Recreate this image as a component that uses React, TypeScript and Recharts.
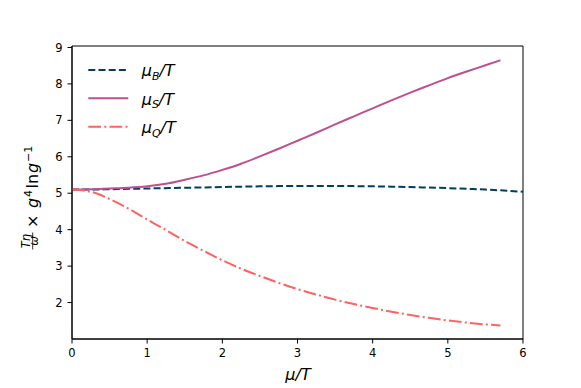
import React from 'react';
import { LineChart, Line, XAxis, YAxis, Legend, ReferenceArea } from 'recharts';

const muOverT = [0, 0.25, 0.5, 0.75, 1.0, 1.25, 1.5, 1.75, 2.0, 2.25, 2.5, 2.75, 3.0, 3.25, 3.5, 3.75, 4.0, 4.25, 4.5, 4.75, 5.0, 5.25, 5.5, 5.7, 6.0];
const seriesB = [5.10, 5.10, 5.11, 5.12, 5.13, 5.14, 5.15, 5.16, 5.17, 5.18, 5.19, 5.195, 5.20, 5.20, 5.20, 5.195, 5.19, 5.18, 5.17, 5.155, 5.14, 5.12, 5.10, 5.08, 5.04];
const seriesS = [5.10, 5.11, 5.13, 5.15, 5.19, 5.26, 5.37, 5.49, 5.64, 5.81, 6.01, 6.22, 6.44, 6.66, 6.89, 7.11, 7.33, 7.55, 7.76, 7.96, 8.16, 8.34, 8.51, 8.65, null];
const seriesQ = [5.10, 5.04, 4.84, 4.58, 4.28, 3.99, 3.69, 3.42, 3.16, 2.93, 2.73, 2.54, 2.37, 2.22, 2.08, 1.96, 1.85, 1.75, 1.66, 1.58, 1.51, 1.45, 1.40, 1.37, null];
const xTicks = [0, 1, 2, 3, 4, 5, 6];
const yTicks = [2, 3, 4, 5, 6, 7, 8, 9];

const data = muOverT.map((x, i) => ({ x, B: seriesB[i], S: seriesS[i], Q: seriesQ[i] }));

const COLORS = { B: '#003f5c', S: '#bc5090', Q: '#ff6361' };
const DASH = { B: '7 3.2', S: undefined as string | undefined, Q: '12.8 3.2 2 3.2' };
const FONT = '"DejaVu Sans", sans-serif';

const legendItems: { key: 'B' | 'S' | 'Q'; sub: string }[] = [
  { key: 'B', sub: 'B' },
  { key: 'S', sub: 'S' },
  { key: 'Q', sub: 'Q' },
];

const LegendContent = () => (
  <svg width={130} height={90} style={{ display: 'block' }}>
    {legendItems.map((it, i) => {
      const y = 15 + i * 28.35;
      return (
        <g key={it.key}>
          <line x1={8.3} x2={48.3} y1={y} y2={y} stroke={COLORS[it.key]} strokeWidth={2} strokeDasharray={DASH[it.key]} />
          <text x={61.7} y={y + 6.3} fontFamily={FONT} fontSize={16} fontStyle="italic" fill="#000">
            μ<tspan fontSize={11} dy={3.5}>{it.sub}</tspan>
            <tspan dy={-3.5}>/T</tspan>
          </text>
        </g>
      );
    })}
  </svg>
);

export default function App() {
  return (
    <div style={{ position: 'absolute', left: 0, top: 0, width: 581, height: 388, background: '#fff' }}>
      <LineChart width={581} height={388} data={data} margin={{ top: 46, right: 58, left: 0, bottom: 0 }}>
        <XAxis
          dataKey="x"
          type="number"
          domain={[0, 6]}
          ticks={xTicks}
          height={49}
          tickSize={4.5}
          tickMargin={5}
          stroke="#000"
          tick={{ fill: '#000', fontSize: 11.5, fontFamily: FONT }}
          axisLine={{ stroke: '#000', strokeWidth: 1 }}
          tickLine={{ stroke: '#000', strokeWidth: 1 }}
        />
        <YAxis
          type="number"
          domain={[1.0, 9.04]}
          ticks={yTicks}
          width={72}
          tickSize={4.5}
          tickMargin={5}
          stroke="#000"
          tick={{ fill: '#000', fontSize: 11.5, fontFamily: FONT }}
          axisLine={{ stroke: '#000', strokeWidth: 1 }}
          tickLine={{ stroke: '#000', strokeWidth: 1 }}
        />
        <ReferenceArea x1={0} x2={6} y1={1.0} y2={9.04} fill="none" stroke="#000" strokeWidth={1} />
        <Line type="monotone" dataKey="B" name="μB/T" stroke={COLORS.B} strokeWidth={2} strokeDasharray={DASH.B} dot={false} isAnimationActive={false} />
        <Line type="monotone" dataKey="S" name="μS/T" stroke={COLORS.S} strokeWidth={2} dot={false} isAnimationActive={false} connectNulls={false} />
        <Line type="monotone" dataKey="Q" name="μQ/T" stroke={COLORS.Q} strokeWidth={2} strokeDasharray={DASH.Q} dot={false} isAnimationActive={false} connectNulls={false} />
        <Legend
          layout="vertical"
          align="center"
          verticalAlign="middle"
          content={<LegendContent />}
          wrapperStyle={{ position: 'absolute', left: 80, top: 55, width: 130, height: 90 }}
        />
      </LineChart>
      <svg width={581} height={388} style={{ position: 'absolute', left: 0, top: 0, pointerEvents: 'none' }}>
        <text x={298} y={380} textAnchor="middle" fontFamily={FONT} fontSize={16} fontStyle="italic" fill="#000">
          μ/T
        </text>
        <g transform="rotate(-90)" fontFamily={FONT} fill="#000">
          <text x={-241} y={30} textAnchor="middle" fontSize={11.5} fontStyle="italic">Tη</text>
          <line x1={-249.5} x2={-232.5} y1={32.7} y2={32.7} stroke="#000" strokeWidth={0.8} />
          <text x={-241} y={38.3} textAnchor="middle" fontSize={11.5} fontStyle="italic">ω</text>
          <text y={38.3} fontSize={16}>
            <tspan x={-228}>×</tspan>
            <tspan x={-208} fontStyle="italic">g</tspan>
            <tspan x={-197} fontSize={11} dy={-6.5}>4</tspan>
            <tspan x={-188.5} dy={6.5}>ln</tspan>
            <tspan x={-173} fontStyle="italic">g</tspan>
            <tspan x={-162} fontSize={11} dy={-6.5}>−1</tspan>
          </text>
        </g>
      </svg>
    </div>
  );
}
